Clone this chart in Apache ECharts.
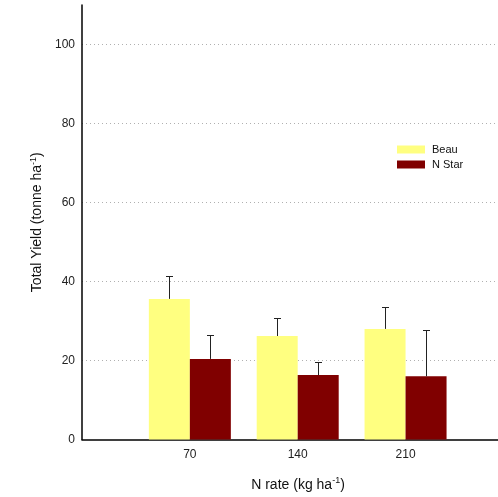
<!DOCTYPE html>
<html>
<head>
<meta charset="utf-8">
<script src="https://cdn.jsdelivr.net/npm/echarts@6/dist/echarts.min.js"></script>
<style>
  html, body { margin: 0; padding: 0; background: #fff; }
  #chart { width: 498px; height: 497px; }
</style>
</head>
<body>
<div id="chart"></div>
<script>
// N application rates (kg ha-1) and total yield per cultivar
const nRates = [70, 140, 210];
const seriesNames = ['Beau', 'N Star'];
const beauYield = [35.6, 26.2, 28.0];
const beauErr = [5.9, 4.6, 5.5];
const nstarYield = [20.4, 16.3, 16.0];
const nstarErr = [6.0, 3.2, 11.8];
const yTicks = [0, 20, 40, 60, 80, 100];

const FONT = 'Liberation Sans, Arial, sans-serif';
const BAR_W = 41;
const colors = ['#ffff80', '#800000'];

const chart = echarts.init(document.getElementById('chart'), null, { renderer: 'canvas' });

// upper-only error whiskers, offset to the centre of each bar in the pair
function errorSeries(name, values, errs, side) {
  return {
    type: 'custom',
    name: name + ' error',
    z: 3,
    data: nRates.map((r, i) => [r, values[i], values[i] + errs[i]]),
    renderItem: function (params, api) {
      const base = api.coord([api.value(0), api.value(1)]);
      const top = api.coord([api.value(0), api.value(2)]);
      const cx = Math.round(base[0] + side * BAR_W / 2) + 0.5;
      const ty = Math.round(top[1]) + 0.5;
      const capHalf = 3.5;
      return {
        type: 'group',
        children: [
          { type: 'line', shape: { x1: cx, y1: base[1], x2: cx, y2: ty },
            style: { stroke: '#222', lineWidth: 1 } },
          { type: 'line', shape: { x1: cx - capHalf, y1: ty, x2: cx + capHalf, y2: ty },
            style: { stroke: '#222', lineWidth: 1 } }
        ]
      };
    }
  };
}

const nameRich = {
  t: { fontFamily: FONT, fontSize: 14, color: '#111' },
  s: { fontFamily: FONT, fontSize: 9, color: '#111', padding: [0, 0, 8, 0] }
};

chart.setOption({
  animation: false,
  backgroundColor: '#fff',
  textStyle: { fontFamily: FONT },
  grid: { left: 82, right: 0, top: 5, bottom: 57 },
  legend: {
    data: seriesNames,
    orient: 'vertical',
    left: 392,
    top: 139,
    itemWidth: 28,
    itemHeight: 8,
    itemGap: 4,
    icon: 'rect',
    textStyle: { fontFamily: FONT, fontSize: 11, color: '#111', padding: [0, 0, 0, 2] }
  },
  xAxis: {
    type: 'value',
    min: 0,
    max: 270,
    interval: 70,
    name: '{t|N rate (kg ha}{s|-1}{t|)}',
    nameLocation: 'middle',
    nameGap: 37,
    nameTextStyle: { rich: nameRich, padding: [0, 0, 0, 16] },
    axisLine: { show: true, onZero: false, lineStyle: { color: '#000', width: 1.5 } },
    axisTick: { show: false },
    splitLine: { show: false },
    axisLabel: {
      customValues: nRates,
      fontFamily: FONT, fontSize: 12, color: '#222', margin: 9
    }
  },
  yAxis: {
    type: 'value',
    min: 0,
    max: 110,
    interval: 20,
    name: '{t|Total Yield (tonne ha}{s|-1}{t|)}',
    nameLocation: 'middle',
    nameGap: 36,
    nameTextStyle: { rich: nameRich },
    axisLine: { show: true, lineStyle: { color: '#000', width: 1.5 } },
    axisTick: { show: false },
    axisLabel: {
      customValues: yTicks,
      fontFamily: FONT, fontSize: 12, color: '#222', margin: 7
    },
    splitLine: {
      show: true,
      showMinLine: false,
      showMaxLine: false,
      lineStyle: { color: '#b0b0b0', type: [1, 3], width: 1 }
    }
  },
  series: [
    {
      name: seriesNames[0],
      type: 'bar',
      barWidth: BAR_W,
      barGap: '0%',
      itemStyle: { color: colors[0] },
      data: nRates.map((r, i) => [r, beauYield[i]])
    },
    {
      name: seriesNames[1],
      type: 'bar',
      barWidth: BAR_W,
      barGap: '0%',
      itemStyle: { color: colors[1] },
      data: nRates.map((r, i) => [r, nstarYield[i]])
    },
    errorSeries(seriesNames[0], beauYield, beauErr, -1),
    errorSeries(seriesNames[1], nstarYield, nstarErr, 1)
  ]
});
</script>
</body>
</html>
